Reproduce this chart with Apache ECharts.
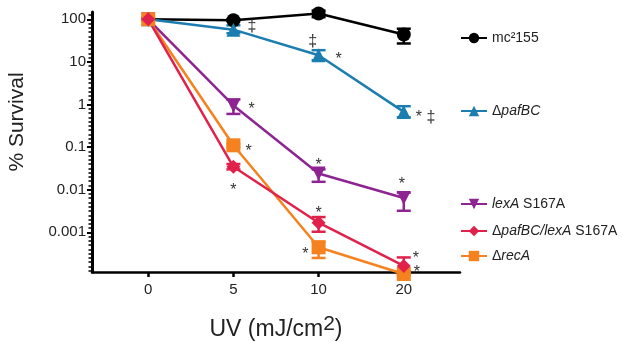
<!DOCTYPE html>
<html>
<head>
<meta charset="utf-8">
<title>UV survival</title>
<script src="https://cdn.jsdelivr.net/npm/echarts@6/dist/echarts.min.js"></script>
<style>
  html, body {margin: 0; padding: 0; background: #fff;}
  #main {width: 622px; height: 342px;}
</style>
</head>
<body>
<div id="main"></div>
<script>
// doses (mJ/cm2), plotted at equal spacing
var doses = ['0', '5', '10', '20'];

// % survival, mean and error bar ends
var mc155     = [100, 95, 136, 44];
var mc155Lo   = [100, 90, 112, 27];
var mc155Hi   = [100, 100, 160, 60];

var pafBC     = [100, 57, 14.3, 0.67];
var pafBCLo   = [100, 47, 10.9, 0.5];
var pafBCHi   = [100, 72, 18.8, 0.91];

var lexA      = [100, 0.95, 0.024, 0.0064];
var lexALo    = [100, 0.6, 0.0153, 0.0032];
var lexAHi    = [100, 1.31, 0.03, 0.0085];

var dbl       = [100, 0.0345, 0.00168, 0.000162];
var dblLo     = [100, 0.03, 0.00103, 0.00012];
var dblHi     = [100, 0.04, 0.00228, 0.000257];

var recA      = [100, 0.11, 0.000445, 0.000105];
var recALo    = [100, 0.1, 0.00025, 0.0001];
var recAHi    = [100, 0.12, 0.0006, 0.00011];

// significance marks: [series, point, text]
var notes = [
  ['pafBC', 1, '‡'], ['pafBC', 2, '‡'], ['pafBC', 2, '*'], ['pafBC', 3, '* ‡'],
  ['lexA', 1, '*'], ['lexA', 2, '*'], ['lexA', 3, '*'],
  ['dbl', 1, '*'], ['dbl', 2, '*'], ['dbl', 3, '*'],
  ['recA', 1, '*'], ['recA', 2, '*'], ['recA', 3, '*']
];

var names = {
  mc155: 'mc²155',
  pafBC: 'ΔpafBC',
  lexA: 'lexA S167A',
  dbl: 'ΔpafBC/lexA S167A',
  recA: 'ΔrecA'
};
var vals = {mc155: mc155, pafBC: pafBC, lexA: lexA, dbl: dbl, recA: recA};

// pixel offsets of each note from its point (same order as notes)
var noteOff = [
  [14, -3, 'left'], [-6, -14, 'center'], [17, 0, 'right0'], [12, 2, 'left'],
  [15, 0, 'left'], [0, -12, 'center'], [-2, -17, 'center'],
  [0, 20, 'center'], [0, -13, 'center'], [9, -11, 'left'],
  [12, 2, 'left'], [-10, 3, 'right'], [10, -5, 'left']
];

var chart = echarts.init(document.getElementById('main'));
var FONT = 'Liberation Sans';
var Y_MIN = 1.17e-4, Y_MAX = 148;

// evenly spaced minor ticks, ten per decade
var minorPos = [];
for (var t = -39; t <= 21; t++) {
  if (t % 10 !== 0) minorPos.push(t / 10);
}

function pts(arr) {
  return arr.map(function (v, i) { return [i, v]; });
}
function errData(lo, hi) {
  var out = [];
  for (var i = 0; i < lo.length; i++) {
    if (hi[i] > lo[i]) out.push([i, lo[i], hi[i]]);
  }
  return out;
}
function errSeries(lo, hi, color) {
  return {
    type: 'custom',
    data: errData(lo, hi),
    encode: {x: 0, y: [1, 2]},
    z: 1,
    silent: true,
    renderItem: function (params, api) {
      var x = api.value(0);
      var a = api.coord([x, api.value(2)]);
      var b = api.coord([x, api.value(1)]);
      var w = 7;
      var st = {stroke: color, lineWidth: 2.5};
      return {
        type: 'group',
        children: [
          {type: 'line', shape: {x1: a[0], y1: a[1], x2: b[0], y2: b[1]}, style: st},
          {type: 'line', shape: {x1: a[0] - w, y1: a[1], x2: a[0] + w, y2: a[1]}, style: st},
          {type: 'line', shape: {x1: b[0] - w, y1: b[1], x2: b[0] + w, y2: b[1]}, style: st}
        ]
      };
    }
  };
}
function lineSeries(key, color, symbol, size, rot) {
  return {
    name: names[key],
    type: 'line',
    data: pts(vals[key]),
    color: color,
    symbol: symbol,
    symbolSize: size,
    symbolRotate: rot || 0,
    showAllSymbol: true,
    clip: false,
    z: 3,
    lineStyle: {width: 2.5, color: color},
    itemStyle: {color: color}
  };
}

var colors = {
  mc155: '#000000',
  pafBC: '#1b7db0',
  lexA: '#8d2491',
  dbl: '#e0214b',
  recA: '#f5821f'
};

var noteData = notes.map(function (n, i) {
  return [n[1], vals[n[0]][n[1]], i];
});

var rich = {
  i: {fontStyle: 'italic', fontSize: 14, fontFamily: FONT, color: '#222'}
};
var legendText = {
  mc155: 'mc²155',
  pafBC: 'Δ{i|pafBC}',
  lexA: '{i|lexA} S167A',
  dbl: 'Δ{i|pafBC/lexA} S167A',
  recA: 'Δ{i|recA}'
};
var legendTop = {mc155: 31, pafBC: 104, lexA: 197, dbl: 224, recA: 249};

var legends = Object.keys(names).map(function (k) {
  return {
    data: [names[k]],
    left: 460,
    top: legendTop[k],
    padding: 0,
    itemWidth: 26,
    itemHeight: 13,
    selectedMode: false,
    formatter: function () { return legendText[k]; },
    textStyle: {fontSize: 14, fontFamily: FONT, color: '#222', rich: rich}
  };
});

var option = {
  animation: false,
  backgroundColor: '#fff',
  legend: legends,
  grid: {left: 92, right: 162, top: 12, bottom: 70, containLabel: false, outerBoundsMode: 'none'},
  xAxis: {
    type: 'value',
    min: -0.66,
    max: 3.66,
    name: 'UV (mJ/cm{s|2})',
    nameLocation: 'middle',
    nameGap: 42,
    nameTextStyle: {
      fontSize: 23, fontFamily: FONT, color: '#222',
      rich: {s: {fontSize: 21, fontFamily: FONT, color: '#222', padding: [0, 0, 11, 0]}}
    },
    axisLine: {onZero: false, lineStyle: {color: '#000', width: 2.5}},
    axisTick: {show: true, inside: false, length: 5, lineStyle: {color: '#000', width: 2.5},
      customValues: [0, 1, 2, 3]},
    axisLabel: {
      customValues: [0, 1, 2, 3],
      formatter: function (v) { return doses[Math.round(v)]; },
      fontSize: 15, fontFamily: FONT, color: '#222', margin: 10
    },
    splitLine: {show: false}
  },
  yAxis: [{
    type: 'log',
    logBase: 10,
    min: Y_MIN,
    max: Y_MAX,
    name: '% Survival',
    nameLocation: 'middle',
    nameGap: 64,
    nameTextStyle: {fontSize: 21, fontFamily: FONT, color: '#222', padding: [0, 0, 0, 40]},
    axisLine: {show: true, onZero: false, lineStyle: {color: '#000', width: 3}},
    axisTick: {show: true, length: 5, lineStyle: {color: '#000', width: 2}},
    minorTick: {show: false},
    axisLabel: {
      showMinLabel: false,
      showMaxLabel: false,
      fontSize: 15, fontFamily: FONT, color: '#222', margin: 6,
      formatter: function (v) {
        var e = Math.round(Math.log10(v));
        if (Math.abs(Math.log10(v) - e) > 0.01) return '';
        return String(Math.pow(10, e) >= 1 ? Math.pow(10, e) : Number(Math.pow(10, e).toFixed(-e)));
      }
    },
    splitLine: {show: false}
  }, {
    // tick-only axis in log10 units for the even minor ticks
    type: 'value',
    position: 'left',
    min: Math.log10(Y_MIN),
    max: Math.log10(Y_MAX),
    axisLine: {show: false, onZero: false},
    axisTick: {show: true, length: 3.5, customValues: minorPos, lineStyle: {color: '#000', width: 1.5}},
    axisLabel: {show: false},
    splitLine: {show: false}
  }],
  series: [
    errSeries(mc155Lo, mc155Hi, colors.mc155),
    errSeries(pafBCLo, pafBCHi, colors.pafBC),
    errSeries(lexALo, lexAHi, colors.lexA),
    errSeries(recALo, recAHi, colors.recA),
    errSeries(dblLo, dblHi, colors.dbl),
    lineSeries('mc155', colors.mc155, 'circle', 14),
    lineSeries('pafBC', colors.pafBC, 'triangle', 14),
    lineSeries('lexA', colors.lexA, 'triangle', 14, 180),
    lineSeries('recA', colors.recA, 'rect', 14),
    lineSeries('dbl', colors.dbl, 'diamond', 14),
    {
      type: 'custom',
      data: noteData,
      encode: {x: 0, y: 1},
      z: 5,
      silent: true,
      renderItem: function (params, api) {
        var idx = api.value(2);
        var p = api.coord([api.value(0), api.value(1)]);
        var off = noteOff[idx];
        var txt = notes[idx][2];
        var align = off[2] === 'right' ? 'right' : (off[2] === 'center' ? 'center' : 'left');
        var isStar = txt.charAt(0) === '*';
        return {
          type: 'text',
          x: p[0] + off[0],
          y: p[1] + off[1] + (isStar ? 4 : 0),
          style: {
            text: txt,
            fill: '#333',
            fontSize: 16,
            fontFamily: FONT,
            align: align,
            verticalAlign: 'middle'
          }
        };
      }
    }
  ]
};

chart.setOption(option);
</script>
</body>
</html>
